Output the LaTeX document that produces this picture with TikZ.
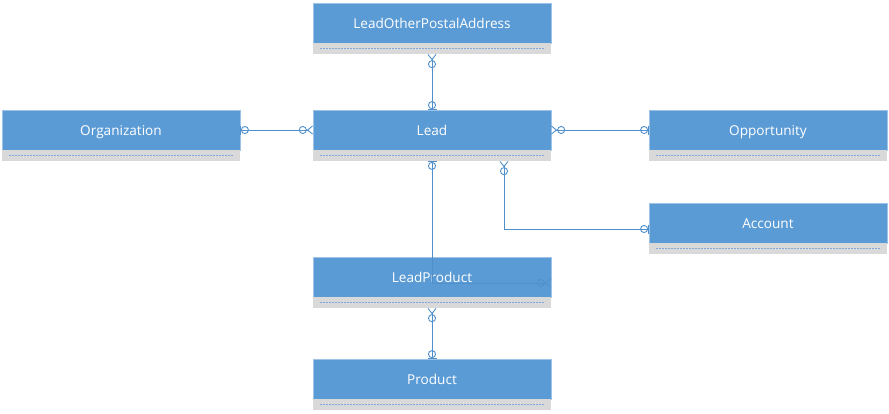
\documentclass[tikz,border=0pt]{standalone}
\usepackage{fontspec}
\setmainfont{Open Sans}
\usetikzlibrary{positioning,arrows.meta}
\definecolor{boxblue}{HTML}{5B9BD5}
\definecolor{boxedge}{HTML}{9DC3E6}
\definecolor{attrgrey}{HTML}{D9D9D9}
\definecolor{dotblue}{HTML}{7FA8DA}
\definecolor{linkblue}{HTML}{4F8FCB}

\tikzset{
  crow/.tip={Straight Barb[reversed,length=5pt,width=8pt]},
  ring/.tip={Circle[open,length=8pt,width=8pt]},
  tick/.tip={Bar[width=9pt]},
}

\begin{document}
\begin{tikzpicture}[x=1pt,y=-1pt,
  entity/.style={fill=boxblue,draw=boxedge,line width=0.5pt,text=white,
    minimum width=238pt,minimum height=40pt,inner sep=0pt,outer sep=0pt,
    text height=2ex,text depth=0pt,
    font=\fontsize{13.6}{16}\selectfont},
  attrs/.style={fill=attrgrey,minimum width=238pt,minimum height=11pt,
    inner sep=0pt,outer sep=0pt,below=0pt of #1},
  dots/.style={dotblue,line width=1.2pt,dash pattern=on 2pt off 1pt},
  conn/.style={draw=linkblue,line width=0.9pt}]

\useasboundingbox (0,0) rectangle (889,413);

% entities
\node[entity,anchor=north west] (LEAD) at (313,110)       {Lead};
\node[attrs=LEAD]  (LEADa) {};
\node[entity,above=67pt of LEAD] (LOPA)                   {LeadOtherPostalAddress};
\node[attrs=LOPA]  (LOPAa) {};
\node[entity,left=73pt of LEAD]  (ORG)                    {Organization};
\node[attrs=ORG]   (ORGa)  {};
\node[entity,right=98pt of LEAD] (OPP)                    {Opportunity};
\node[attrs=OPP]   (OPPa)  {};
\node[entity,below right=53pt and 98pt of LEAD] (ACC)     {Account};
\node[attrs=ACC]   (ACCa)  {};
\node[entity,below=107pt of LEAD] (LP)                    {LeadProduct};
\node[attrs=LP]    (LPa)   {};
\node[entity,below=62pt of LP]   (PROD)                   {Product};
\node[attrs=PROD]  (PRODa) {};

\foreach \n in {LOPAa,LEADa,ORGa,OPPa,ACCa,LPa,PRODa}
  \draw[dots] ([xshift=7pt]\n.west) -- ([xshift=-7pt]\n.east);

% relationships
\draw[conn,{crow[]ring[]}-{ring[]tick[]}] (LOPAa) -- (LEAD);
\draw[conn,{tick[]ring[]}-{ring[]crow[]}] (ORG)   -- (LEAD);
\draw[conn,{crow[]ring[]}-{ring[]tick[]}] (LEAD)  -- (OPP);
\draw[conn,{tick[]ring[]}-{ring[]crow[]}] (LEADa) |- ([yshift=-6pt]LP.east);
\draw[conn,{crow[]ring[]}-{ring[]tick[]}] ([xshift=72pt]LEADa.south) |- ([yshift=-6pt]ACC.west);
\draw[conn,{crow[]ring[]}-{ring[]tick[]}] (LPa)   -- (PROD);
\end{tikzpicture}
\end{document}
